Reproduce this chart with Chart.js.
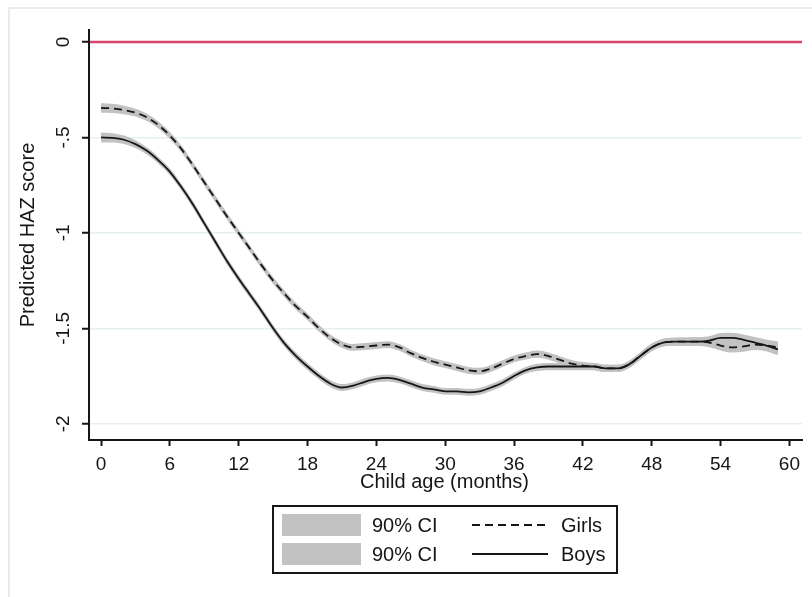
<!DOCTYPE html>
<html>
<head>
<meta charset="utf-8">
<script src="https://cdn.jsdelivr.net/npm/chart.js@4/dist/chart.umd.min.js"></script>
<style>
  html, body { margin: 0; padding: 0; background: #ffffff; }
  canvas { display: block; }
</style>
</head>
<body>
<canvas id="haz" width="812" height="597"></canvas>
<script>
// Child age in months
const months = [0,1,2,3,4,5,6,7,8,9,10,11,12,13,14,15,16,17,18,19,20,21,22,23,24,25,26,27,28,29,
                30,31,32,33,34,35,36,37,38,39,40,41,42,43,44,45,46,47,48,49,50,51,52,53,54,55,56,57,58,59];

// Predicted height-for-age z-score, girls
const girlsHAZ = [-0.345,-0.348,-0.356,-0.37,-0.395,-0.435,-0.49,-0.56,-0.645,-0.735,
                  -0.825,-0.915,-1.00,-1.085,-1.17,-1.25,-1.32,-1.385,-1.44,-1.50,
                  -1.55,-1.585,-1.60,-1.595,-1.59,-1.585,-1.60,-1.63,-1.655,-1.675,
                  -1.69,-1.705,-1.72,-1.725,-1.71,-1.685,-1.66,-1.645,-1.635,-1.645,
                  -1.665,-1.685,-1.695,-1.70,-1.71,-1.71,-1.69,-1.645,-1.60,-1.575,
                  -1.57,-1.57,-1.57,-1.575,-1.59,-1.60,-1.595,-1.585,-1.59,-1.60];

// Predicted height-for-age z-score, boys
const boysHAZ = [-0.50,-0.502,-0.512,-0.535,-0.57,-0.62,-0.68,-0.76,-0.85,-0.95,
                 -1.05,-1.15,-1.24,-1.325,-1.41,-1.50,-1.58,-1.645,-1.70,-1.75,
                 -1.79,-1.81,-1.80,-1.78,-1.765,-1.76,-1.77,-1.79,-1.81,-1.82,
                 -1.83,-1.83,-1.835,-1.83,-1.81,-1.785,-1.75,-1.72,-1.705,-1.70,
                 -1.70,-1.70,-1.70,-1.70,-1.71,-1.71,-1.69,-1.645,-1.60,-1.575,
                 -1.57,-1.57,-1.57,-1.565,-1.55,-1.55,-1.56,-1.575,-1.59,-1.61];

// Half-width of the 90% confidence interval
const girlsCI = [0.026,0.024,0.022,0.02,0.019,0.018,0.018,0.018,0.018,0.018,
                 0.018,0.018,0.018,0.018,0.018,0.018,0.018,0.018,0.018,0.018,
                 0.018,0.018,0.018,0.018,0.018,0.018,0.018,0.018,0.018,0.018,
                 0.018,0.018,0.018,0.018,0.018,0.018,0.018,0.018,0.019,0.019,
                 0.019,0.019,0.019,0.019,0.019,0.019,0.019,0.019,0.02,0.02,
                 0.021,0.022,0.023,0.024,0.026,0.027,0.028,0.029,0.03,0.031];
const boysCI = [0.026,0.024,0.022,0.02,0.019,0.018,0.018,0.018,0.018,0.018,
                0.018,0.018,0.018,0.018,0.018,0.018,0.018,0.018,0.018,0.018,
                0.018,0.018,0.018,0.018,0.018,0.018,0.018,0.018,0.018,0.018,
                0.018,0.018,0.018,0.018,0.018,0.018,0.018,0.018,0.019,0.019,
                0.019,0.019,0.019,0.019,0.019,0.019,0.019,0.019,0.02,0.02,
                0.021,0.022,0.023,0.024,0.026,0.027,0.028,0.029,0.03,0.031];

// Axis ticks and labels
const xTicks = [0,6,12,18,24,30,36,42,48,54,60];
const yTicks = [0,-0.5,-1,-1.5,-2];
const yTickLabels = ['0','-.5','-1','-1.5','-2'];
const referenceHAZ = 0;

const xTitle = 'Child age (months)';
const yTitle = 'Predicted HAZ score';
const ciLabel = '90% CI';
const girlsLabel = 'Girls';
const boysLabel = 'Boys';

const INK = '#161616';
const BAND = '#c2c2c2';
const FONT = 'Arial, "Liberation Sans", sans-serif';

const pts = (vals, off, sign) => months.map((m, i) => ({ x: m, y: vals[i] + (off ? sign * off[i] : 0) }));

const common = { pointRadius: 0, pointHoverRadius: 0, cubicInterpolationMode: 'monotone' };

const datasets = [
  { ...common, label: 'girlsUpper', data: pts(girlsHAZ, girlsCI, 1), borderWidth: 0, backgroundColor: BAND, fill: '+1', order: 2 },
  { ...common, label: 'girlsLower', data: pts(girlsHAZ, girlsCI, -1), borderWidth: 0, fill: false, order: 2 },
  { ...common, label: 'boysUpper', data: pts(boysHAZ, boysCI, 1), borderWidth: 0, backgroundColor: BAND, fill: '+1', order: 2 },
  { ...common, label: 'boysLower', data: pts(boysHAZ, boysCI, -1), borderWidth: 0, fill: false, order: 2 },
  { ...common, label: girlsLabel, data: pts(girlsHAZ), borderColor: INK, borderWidth: 1.8, borderDash: [8, 5], fill: false, order: 1 },
  { ...common, label: boysLabel, data: pts(boysHAZ), borderColor: INK, borderWidth: 1.8, fill: false, order: 1 }
];

// Page background, outer frame and the zero reference line
const backdrop = {
  id: 'backdrop',
  beforeDraw(chart) {
    const ctx = chart.ctx;
    ctx.save();
    ctx.fillStyle = '#ffffff';
    ctx.fillRect(0, 0, chart.width, chart.height);
    ctx.strokeStyle = '#e4ecee';
    ctx.lineWidth = 2;
    ctx.strokeRect(9, 8, chart.width + 10, chart.height + 10);
    ctx.restore();
  },
  beforeDatasetsDraw(chart) {
    const { ctx, chartArea, scales } = chart;
    const y = scales.y.getPixelForValue(referenceHAZ);
    ctx.save();
    ctx.strokeStyle = '#d8446c';
    ctx.lineWidth = 2.6;
    ctx.beginPath();
    ctx.moveTo(chartArea.left + 1, y);
    ctx.lineTo(chartArea.right, y);
    ctx.stroke();
    ctx.restore();
  }
};

// Rotated y tick labels, axis titles and the key
const annotations = {
  id: 'annotations',
  afterDraw(chart) {
    const { ctx, chartArea, scales } = chart;
    ctx.save();
    ctx.fillStyle = INK;

    // y tick labels, written vertically
    ctx.font = '19px ' + FONT;
    ctx.textAlign = 'center';
    ctx.textBaseline = 'middle';
    yTicks.forEach((v, i) => {
      const py = scales.y.getPixelForValue(v);
      ctx.save();
      ctx.translate(64, py);
      ctx.rotate(-Math.PI / 2);
      ctx.fillText(yTickLabels[i], 0, 0);
      ctx.restore();
    });

    // y axis title
    ctx.font = '20px ' + FONT;
    ctx.save();
    ctx.translate(28, (chartArea.top + chartArea.bottom) / 2);
    ctx.rotate(-Math.PI / 2);
    ctx.fillText(yTitle, 0, 0);
    ctx.restore();

    // x axis title
    ctx.fillText(xTitle, (chartArea.left + chartArea.right) / 2 - 1, 482);

    // key
    const box = { x: 273, y: 506, w: 344, h: 67 };
    ctx.fillStyle = '#ffffff';
    ctx.fillRect(box.x, box.y, box.w, box.h);
    ctx.strokeStyle = INK;
    ctx.lineWidth = 2;
    ctx.strokeRect(box.x, box.y, box.w, box.h);

    const rows = [
      { cy: 525, label: girlsLabel, dash: [8, 5] },
      { cy: 554, label: boysLabel, dash: [] }
    ];
    rows.forEach(r => {
      ctx.fillStyle = BAND;
      ctx.fillRect(282, r.cy - 11, 79, 22);
      ctx.fillStyle = INK;
      ctx.textAlign = 'left';
      ctx.textBaseline = 'middle';
      ctx.font = '20px ' + FONT;
      ctx.fillText(ciLabel, 372, r.cy + 1);
      ctx.strokeStyle = INK;
      ctx.lineWidth = 1.8;
      ctx.setLineDash(r.dash);
      ctx.beginPath();
      ctx.moveTo(472, r.cy);
      ctx.lineTo(548, r.cy);
      ctx.stroke();
      ctx.setLineDash([]);
      ctx.fillText(r.label, 561, r.cy + 1);
    });
    ctx.restore();
  }
};

new Chart(document.getElementById('haz'), {
  type: 'line',
  data: { datasets },
  plugins: [backdrop, annotations],
  options: {
    responsive: false,
    animation: false,
    devicePixelRatio: 1,
    layout: { padding: { top: 30, right: 10, left: 0, bottom: 0 } },
    plugins: { legend: { display: false }, tooltip: { enabled: false } },
    scales: {
      x: {
        type: 'linear',
        min: -1.05,
        max: 61.1,
        afterBuildTicks: s => { s.ticks = xTicks.map(v => ({ value: v })); },
        afterFit: s => { s.height = 157; },
        border: { display: true, color: INK, width: 2 },
        grid: { drawOnChartArea: false, drawTicks: true, tickLength: 6, tickColor: INK, tickWidth: 2 },
        ticks: { color: INK, font: { family: FONT, size: 19 }, padding: 7, maxRotation: 0, autoSkip: false }
      },
      y: {
        type: 'linear',
        min: -2.085,
        max: 0.063,
        afterBuildTicks: s => { s.ticks = yTicks.map(v => ({ value: v })); },
        afterFit: s => { s.width = 89; },
        border: { display: true, color: INK, width: 2 },
        grid: { drawOnChartArea: true, color: '#e6eff1', lineWidth: 1.5, drawTicks: true, tickLength: 7, tickColor: INK, tickWidth: 2 },
        ticks: { display: false }
      }
    }
  }
});
</script>
</body>
</html>
